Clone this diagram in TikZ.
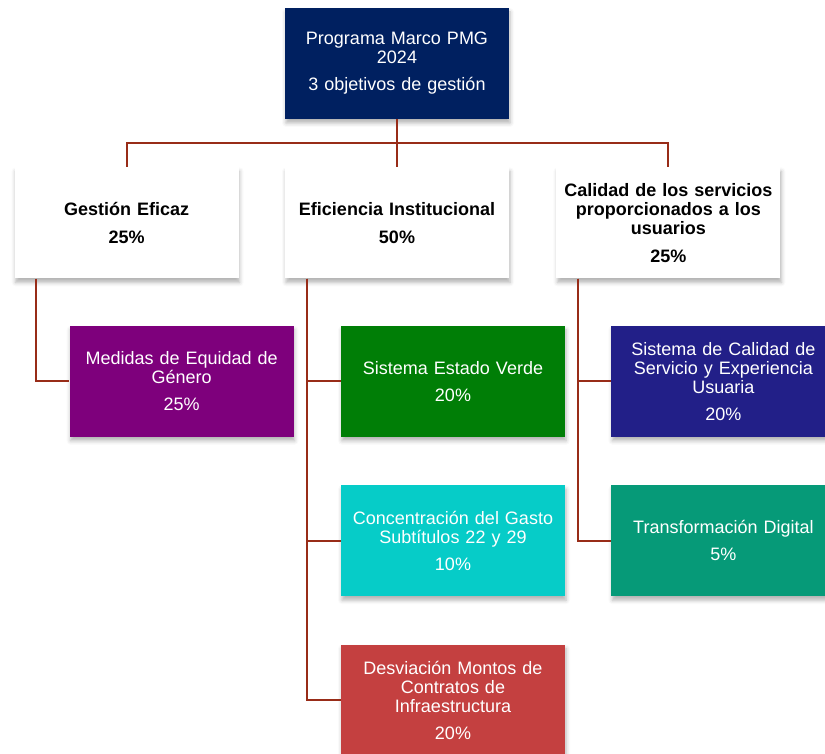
\documentclass[tikz,border=0pt]{standalone}
\usepackage{fontspec}
\setmainfont{Liberation Sans}
\usetikzlibrary{positioning, shadows.blur}
\definecolor{navy}{RGB}{0,32,96}
\definecolor{linebrown}{RGB}{152,44,24}
\definecolor{purplebox}{RGB}{126,0,124}
\definecolor{greenbox}{RGB}{0,126,6}
\definecolor{bluebox}{RGB}{34,31,136}
\definecolor{cyanbox}{RGB}{6,204,200}
\definecolor{tealbox}{RGB}{6,154,120}
\definecolor{redbox}{RGB}{196,64,64}
\tikzstyle{box} = [rectangle, minimum width=224pt, minimum height=111pt, text width=214pt, inner sep=0pt, align=center, font=\fontsize{18}{19}\selectfont, blur shadow={shadow xshift=1pt, shadow yshift=-4pt, shadow opacity=30, shadow blur radius=4pt}]
\tikzstyle{rootbox} = [box, fill=navy, text=white]
\tikzstyle{objbox} = [box, fill=white, text=black, font=\fontsize{18}{19}\selectfont\bfseries]
\tikzstyle{metabox} = [box, text=white]
\tikzstyle{link} = [draw=linebrown, line width=2pt]

\begin{document}
\begin{tikzpicture}[node distance=48pt]
\useasboundingbox (0,0) rectangle (825pt,-754pt);
\clip (0,0) rectangle (825pt,-754pt);
\node (root) [rootbox] at (397pt,-63.5pt) {Programa Marco PMG\\2024\\[8pt]3 objetivos de gestión\\[-14pt]~};
\node (efic) [objbox, below=48pt of root] {Eficiencia Institucional\\[9pt]50\%};
\node (gest) [objbox, left=46pt of efic] {Gestión Eficaz\\[9pt]25\%};
\node (cali) [objbox, right=47pt of efic] {Calidad de los servicios\\proporcionados a los\\usuarios\\[9pt]25\%};
\node (equi) [metabox, fill=purplebox, below=47pt of gest, xshift=55pt] {Medidas de Equidad de\\Género\\[8pt]25\%};
\node (verde) [metabox, fill=greenbox, below=47pt of efic, xshift=56pt] {Sistema Estado Verde\\[8pt]20\%};
\node (conc) [metabox, fill=cyanbox, below=of verde] {Concentración del Gasto\\Subtítulos 22 y 29\\[8pt]10\%};
\node (desv) [metabox, fill=redbox, below=of conc] {Desviación Montos de\\Contratos de\\Infraestructura\\[8pt]20\%};
\node (serv) [metabox, fill=bluebox, below=47pt of cali, xshift=55pt] {Sistema de Calidad de\\Servicio y Experiencia\\Usuaria\\[8pt]20\%};
\node (digi) [metabox, fill=tealbox, below=of serv] {Transformación Digital\\[8pt]5\%};
% ramas del programa
\draw[link] (root.south) -- (efic.north);
\draw[link] (root.south) -- ++(0,-24pt) -| (gest.north);
\draw[link] (root.south) -- ++(0,-24pt) -| (cali.north);
% indicadores
\draw[link] ([xshift=22pt]gest.south west) |- (equi.west);
\draw[link] ([xshift=22pt]efic.south west) |- (verde.west);
\draw[link] ([xshift=22pt]efic.south west) |- (conc.west);
\draw[link] ([xshift=22pt]efic.south west) |- (desv.west);
\draw[link] ([xshift=22pt]cali.south west) |- (serv.west);
\draw[link] ([xshift=22pt]cali.south west) |- (digi.west);
\end{tikzpicture}
\end{document}
